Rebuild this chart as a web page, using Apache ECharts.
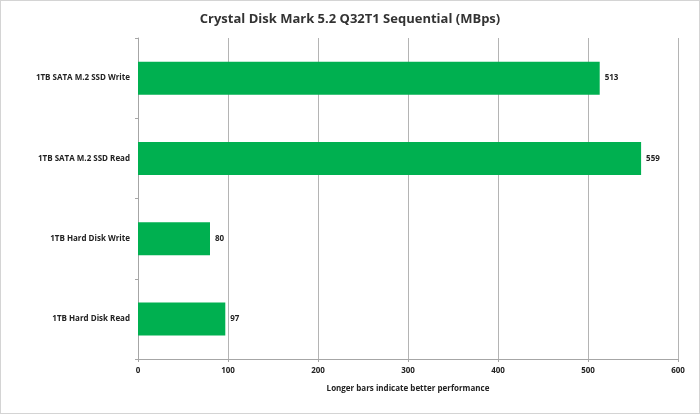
<!DOCTYPE html>
<html>
<head>
    <meta charset="utf-8">
    <title>Crystal Disk Mark</title>
    <script src="https://cdn.jsdelivr.net/npm/echarts@6/dist/echarts.min.js"></script>
    <style>
      html, body { margin: 0; padding: 0; background: #fff; }
      #main { width: 698px; height: 412px; border: 1px solid #d4d4d4; }
    </style>
</head>
<body>
    <div id="main"></div>
    <script type="text/javascript">
// bottom to top, as ECharts draws a category y axis
let categories = ['1TB Hard Disk Read', '1TB Hard Disk Write', '1TB SATA M.2 SSD Read', '1TB SATA M.2 SSD Write']
let speeds = [97, 80, 559, 513]
let xTicks = [0, 100, 200, 300, 400, 500, 600]

let fontFam = 'Open Sans, Noto Sans, sans-serif'

let option = {
    animation: false,
    title: {
        text: 'Crystal Disk Mark 5.2 Q32T1 Sequential (MBps)',
        left: 'center',
        top: 7,
        textStyle: { fontFamily: fontFam, fontSize: 13, fontWeight: 'bold', color: '#333' }
    },
    grid: { left: 137, right: 21, top: 37, bottom: 54 },
    xAxis: {
        type: 'value',
        min: xTicks[0],
        max: xTicks[xTicks.length - 1],
        interval: 100,
        name: 'Longer bars indicate better performance',
        nameLocation: 'middle',
        nameGap: 26,
        nameTextStyle: { fontFamily: fontFam, fontSize: 8, fontWeight: 'bold', color: '#222' },
        axisLine: { show: true, lineStyle: { color: '#a6a6a6' } },
        axisTick: { show: true, length: 3, lineStyle: { color: '#a6a6a6' } },
        axisLabel: { fontFamily: fontFam, fontSize: 8, fontWeight: 'bold', color: '#222', margin: 8 },
        splitLine: { show: true, lineStyle: { color: '#b4b4b4' } }
    },
    yAxis: {
        type: 'category',
        data: categories,
        axisLine: { show: true, lineStyle: { color: '#a6a6a6' } },
        axisTick: { show: true, length: 3, lineStyle: { color: '#a6a6a6' } },
        axisLabel: { fontFamily: fontFam, fontSize: 8, fontWeight: 'bold', color: '#222', margin: 8 }
    },
    series: [{
        type: 'bar',
        data: speeds,
        barWidth: 33,
        itemStyle: { color: '#00b050' },
        label: {
            show: true,
            position: 'right',
            distance: 5,
            fontFamily: fontFam,
            fontSize: 8,
            fontWeight: 'bold',
            color: '#222'
        }
    }]
}

echarts.init(document.getElementById('main')).setOption(option)
    </script>
</body>
</html>
